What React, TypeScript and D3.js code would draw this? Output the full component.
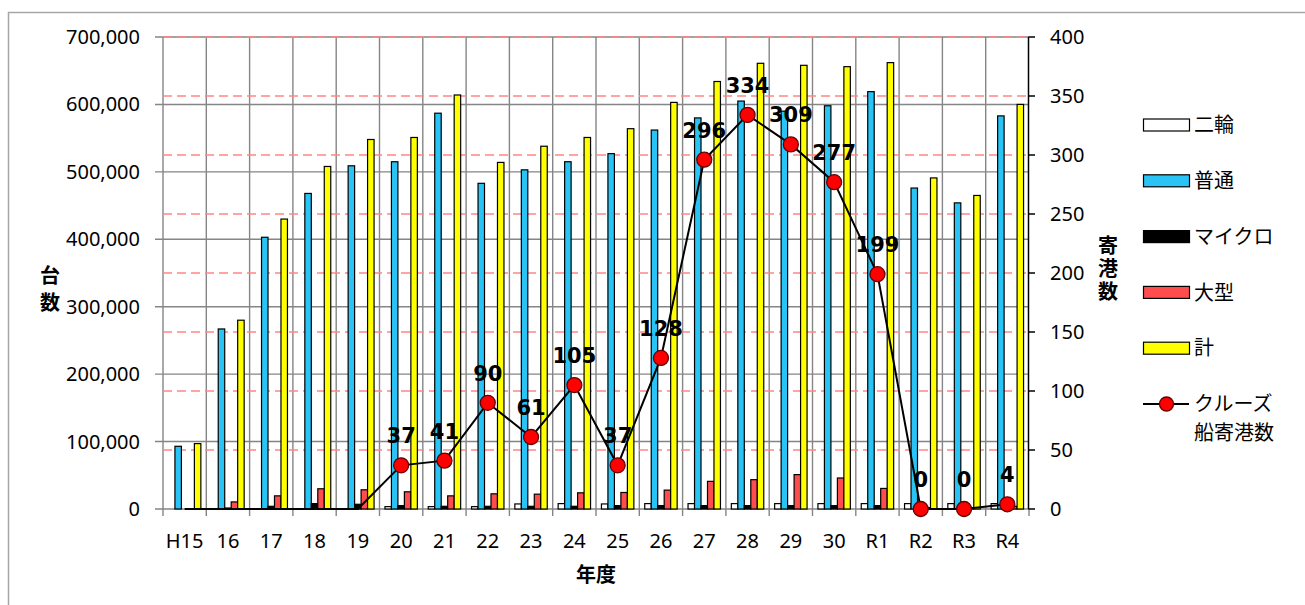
import React from "react";
import * as d3 from "d3";

// 年度
const years = ["H15", "16", "17", "18", "19", "20", "21", "22", "23", "24", "25", "26", "27", "28", "29", "30", "R1", "R2", "R3", "R4"];

// 台数
const nirin = [0, 0, 0, 0, 0, 3500, 3500, 3500, 7500, 8000, 7500, 8000, 8000, 8000, 8000, 8000, 8000, 8000, 8000, 8000];
const futsu = [93000, 267000, 403000, 468000, 509000, 515000, 587000, 483000, 503000, 515000, 527000, 562000, 580000, 605000, 590000, 598000, 619000, 476000, 454000, 583000];
const micro = [0, 1500, 4000, 8000, 7000, 5000, 4000, 4000, 4000, 4000, 5000, 5000, 5000, 5000, 5000, 5000, 5000, 2000, 1500, 3000];
const ogata = [0, 10500, 19500, 30000, 28500, 25500, 19500, 22500, 22000, 24000, 24500, 28000, 41000, 43500, 51000, 46000, 30500, 2000, 1500, 4000];
const total = [97000, 280000, 430000, 508000, 548000, 551000, 614000, 514000, 538000, 551000, 564000, 603000, 634000, 661000, 658000, 656000, 662000, 491000, 465000, 600000];

// クルーズ船寄港数
const cruise = [0, 0, 0, 0, 0, 37, 41, 90, 61, 105, 37, 128, 296, 334, 309, 277, 199, 0, 0, 4];
const markerFrom = 5;

const leftTicks = [0, 100000, 200000, 300000, 400000, 500000, 600000, 700000];
const rightTicks = [0, 50, 100, 150, 200, 250, 300, 350, 400];

const series = [
  { key: "二輪", values: nirin, fill: "#ffffff" },
  { key: "普通", values: futsu, fill: "#29c4f5" },
  { key: "マイクロ", values: micro, fill: "#000000" },
  { key: "大型", values: ogata, fill: "#ff4d4d" },
  { key: "計", values: total, fill: "#ffff00" },
];

const sans = "'Noto Sans', 'Noto Sans CJK JP', sans-serif";
const cjk = "'Noto Sans CJK JP', 'Noto Sans', sans-serif";
const bold = "'DejaVu Sans', 'Noto Sans CJK JP', sans-serif";

export default function App() {
  const W = 1305, H = 605;
  const left = 163, right = 1029, top = 37, bottom = 509;

  const x0 = d3.scaleBand<string>().domain(years).range([left, right]).padding(0);
  const x1 = d3.scaleBand<string>().domain(series.map(s => s.key)).range([0, x0.bandwidth()]).paddingInner(0).paddingOuter(0.84);
  const yL = d3.scaleLinear().domain([0, 700000]).range([bottom, top]);
  const yR = d3.scaleLinear().domain([0, 400]).range([bottom, top]);
  const fmt = d3.format(",");

  const cx = (i: number) => (x0(years[i]) as number) + x0.bandwidth() / 2;
  const line = d3.line<number>().x((d, i) => cx(i)).y(d => yR(d));

  const legendY = d3.scaleLinear().domain([0, 5]).range([125, 404]);
  const grid = "#858585";

  return (
    <svg width={W} height={H} style={{ position: "absolute", left: 0, top: 0 }}>
      <rect x={8.5} y={12.5} width={1400} height={700} fill="#fff" stroke="#a6a6a6" strokeWidth={1.5} />

      {/* vertical gridlines */}
      {years.map((y, i) => (
        <line key={"v" + i} x1={x0(y)} x2={x0(y)} y1={top} y2={bottom + 7} stroke={grid} strokeWidth={1.4} />
      ))}
      <line x1={right} x2={right} y1={bottom} y2={bottom + 7} stroke={grid} strokeWidth={1.4} />

      {/* left gridlines */}
      {leftTicks.map(t => (
        <line key={"h" + t} x1={left - 8} x2={right} y1={yL(t)} y2={yL(t)} stroke={grid} strokeWidth={1.4} />
      ))}
      {/* right-axis dashed gridlines */}
      {rightTicks.filter(t => t > 0).map(t => (
        <line key={"r" + t} x1={left} x2={right} y1={yR(t)} y2={yR(t)} stroke="#ff8585" strokeWidth={1.3} strokeDasharray="9,5" />
      ))}

      {/* bars */}
      {series.map(s => (
        <g key={s.key}>
          {s.values.map((v, i) => (
            v > 0 ? (
              <rect key={i} x={(x0(years[i]) as number) + (x1(s.key) as number)} y={yL(v)}
                width={x1.bandwidth()} height={bottom - yL(v)} fill={s.fill} stroke="#000" strokeWidth={1.2} />
            ) : null
          ))}
        </g>
      ))}

      {/* right axis */}
      <line x1={right - 0.5} x2={right - 0.5} y1={top} y2={bottom} stroke="#000" strokeWidth={1.5} />
      {rightTicks.map(t => (
        <g key={"rt" + t}>
          <line x1={right - 0.5} x2={right + 6} y1={yR(t)} y2={yR(t)} stroke="#000" strokeWidth={1.5} />
          <text x={1050} y={yR(t)} dy="0.35em" fontFamily={sans} fontSize={20} fill="#000">{t}</text>
        </g>
      ))}

      {/* left labels */}
      {leftTicks.map(t => (
        <text key={"lt" + t} x={140} y={yL(t)} dy="0.35em" textAnchor="end" fontFamily={sans} fontSize={20} fill="#000">{fmt(t)}</text>
      ))}

      {/* category labels */}
      {years.map((y, i) => (
        <text key={"c" + i} x={cx(i)} y={548} textAnchor="middle" fontFamily={sans} fontSize={20} fill="#000">{y}</text>
      ))}

      {/* axis titles */}
      <text x={(left + right) / 2} y={582} textAnchor="middle" fontFamily={cjk} fontWeight="bold" fontSize={20}>年度</text>
      <text x={50} y={292} textAnchor="middle" fontFamily={cjk} fontWeight="bold" fontSize={20}
        style={{ writingMode: "vertical-rl" }} letterSpacing={7}>台数</text>
      <text x={1108} y={270} textAnchor="middle" fontFamily={cjk} fontWeight="bold" fontSize={20}
        style={{ writingMode: "vertical-rl" }} letterSpacing={3}>寄港数</text>

      {/* cruise line */}
      <path d={line(cruise) as string} fill="none" stroke="#000" strokeWidth={2} />
      {cruise.map((v, i) => i >= markerFrom ? (
        <g key={"m" + i}>
          <circle cx={cx(i)} cy={yR(v)} r={7.5} fill="#f00" stroke="#600" strokeWidth={1.3} />
          <text x={cx(i)} y={yR(v) - 22} textAnchor="middle" fontFamily={bold} fontWeight="bold" fontSize={21} fill="#000">{v}</text>
        </g>
      ) : null)}

      {/* legend */}
      {series.map((s, i) => (
        <g key={"lg" + s.key}>
          <rect x={1143.5} y={legendY(i) - 6} width={46} height={12} fill={s.fill} stroke="#000" strokeWidth={1.2} />
          <text x={1194} y={legendY(i)} dy="0.36em" fontFamily={cjk} fontSize={20} fill="#000">{s.key}</text>
        </g>
      ))}
      <line x1={1143} x2={1189} y1={legendY(5)} y2={legendY(5)} stroke="#000" strokeWidth={2} />
      <circle cx={1166.5} cy={legendY(5)} r={7} fill="#f00" stroke="#600" strokeWidth={1.3} />
      <text x={1194} y={legendY(5)} dy="0.36em" fontFamily={cjk} fontSize={20}>クルーズ</text>
      <text x={1194} y={legendY(5) + 29} dy="0.36em" fontFamily={cjk} fontSize={20}>船寄港数</text>
    </svg>
  );
}
